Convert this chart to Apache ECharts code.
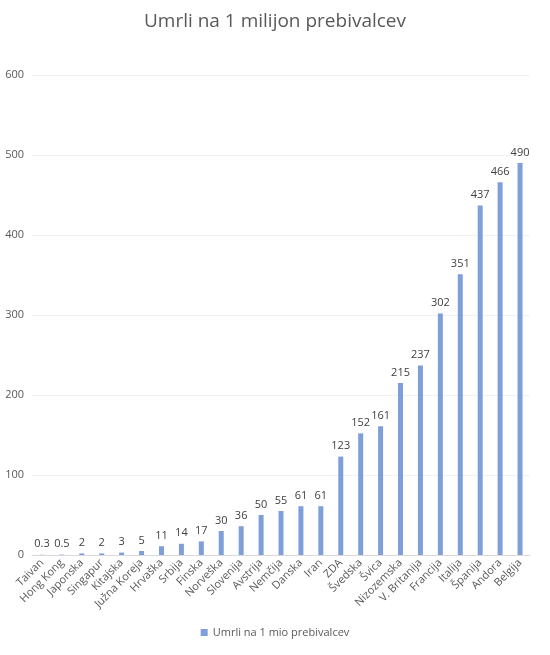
<!DOCTYPE html>
<html>
<head>
<meta charset="utf-8">
<script src="https://cdn.jsdelivr.net/npm/echarts@6/dist/echarts.min.js"></script>
<style>
  html, body { margin: 0; padding: 0; background: #fff; }
  #chart { width: 550px; height: 655px; }
</style>
</head>
<body>
<div id="chart"></div>
<script>
var countries = ['Taivan', 'Hong Kong', 'Japonska', 'Singapur', 'Kitajska', 'Južna Koreja', 'Hrvaška', 'Srbija',
  'Finska', 'Norveška', 'Slovenija', 'Avstrija', 'Nemčija', 'Danska', 'Iran', 'ZDA', 'Švedska', 'Švica',
  'Nizozemska', 'V. Britanija', 'Francija', 'Italija', 'Španija', 'Andora', 'Belgija'];
var deaths = [0.3, 0.5, 2, 2, 3, 5, 11, 14, 17, 30, 36, 50, 55, 61, 61, 123, 152, 161, 215, 237, 302, 351, 437, 466, 490];
var seriesName = 'Umrli na 1 mio prebivalcev';

var chart = echarts.init(document.getElementById('chart'));

var option = {
  title: {
    text: 'Umrli na 1 milijon prebivalcev',
    left: 'center',
    top: 7,
    textStyle: { fontFamily: 'Open Sans', fontSize: 19, fontWeight: 'normal', color: '#595959' }
  },
  legend: {
    bottom: 12,
    itemWidth: 7,
    itemHeight: 7,
    icon: 'rect',
    textStyle: { fontFamily: 'Open Sans', fontSize: 11, color: '#595959' },
    data: [seriesName]
  },
  grid: { left: 32, right: 20, top: 75, bottom: 100 },
  xAxis: {
    type: 'category',
    data: countries,
    axisLine: { lineStyle: { color: '#d9d9d9' } },
    axisTick: { show: false },
    axisLabel: { interval: 0, rotate: 45, fontFamily: 'Open Sans', fontSize: 11, color: '#595959', margin: 6 }
  },
  yAxis: {
    type: 'value',
    min: 0,
    max: 600,
    interval: 100,
    splitLine: { show: true, lineStyle: { color: '#f0f0f0' } },
    axisLabel: { fontFamily: 'Open Sans', fontSize: 11, color: '#595959', margin: 8 }
  },
  series: [{
    name: seriesName,
    type: 'bar',
    data: deaths,
    barWidth: 5,
    itemStyle: { color: '#7f9fd8' },
    label: { show: true, position: 'top', fontFamily: 'Open Sans', fontSize: 11, color: '#404040', distance: 5 }
  }]
};

chart.setOption(option);
</script>
</body>
</html>
